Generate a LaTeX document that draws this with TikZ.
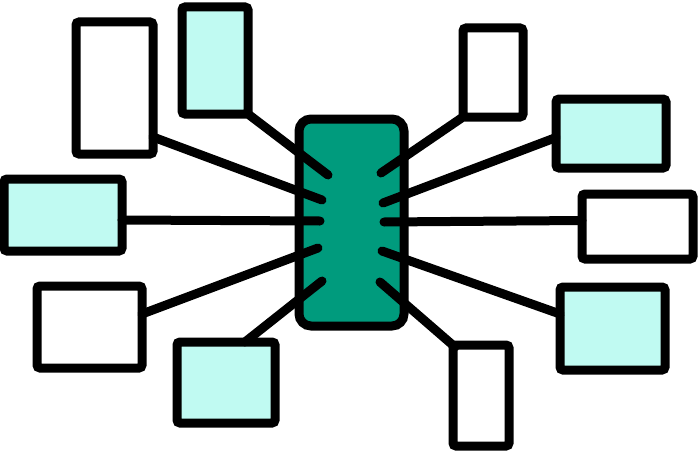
\documentclass[tikz,border=0pt]{standalone}
\usetikzlibrary{calc}
\definecolor{chipteal}{RGB}{0,155,125}
\definecolor{lightcyan}{RGB}{192,250,242}
\begin{document}
\begin{tikzpicture}[x=1pt,y=-1pt,
  box/.style={draw=black, line width=9pt, rounded corners=3pt, inner sep=0pt, outer sep=0pt},
  wbox/.style={box, fill=white},
  cbox/.style={box, fill=lightcyan},
  chip/.style={draw=black, line width=9pt, rounded corners=12pt, fill=chipteal, inner sep=0pt, outer sep=0pt},
  wire/.style={draw=black, line width=9pt, line cap=round}]
\useasboundingbox (0,0) rectangle (700,452);
% boxes
\node[wbox, minimum width=77pt, minimum height=132pt] (l1) at (114.5,88) {};
\node[cbox, minimum width=66pt, minimum height=107pt] (l2) at (215,60.5) {};
\node[cbox, minimum width=118pt, minimum height=72pt] (l3) at (63,215) {};
\node[wbox, minimum width=105pt, minimum height=82pt] (l4) at (89.5,327) {};
\node[cbox, minimum width=98pt, minimum height=81pt] (l5) at (226,382.5) {};
\node[wbox, minimum width=60pt, minimum height=89pt] (r1) at (493,72.5) {};
\node[cbox, minimum width=110pt, minimum height=69pt] (r2) at (611,133.5) {};
\node[wbox, minimum width=111pt, minimum height=65pt] (r3) at (637.5,226.5) {};
\node[cbox, minimum width=105pt, minimum height=83pt] (r4) at (612.5,328.5) {};
\node[wbox, minimum width=56pt, minimum height=101pt] (r5) at (481,395.5) {};
% chip
\node[chip, minimum width=105pt, minimum height=207pt] (c) at (351.5,222.5) {};
% stub ends inside chip
\coordinate (sl1) at (322,200);
\coordinate (sl2) at (328,175);
\coordinate (sl3) at (320,221);
\coordinate (sl4) at (318,248);
\coordinate (sl5) at (322,281);
\coordinate (sr1) at (381,173);
\coordinate (sr2) at (383,203);
\coordinate (sr3) at (384,222);
\coordinate (sr4) at (382,251);
\coordinate (sr5) at (380,282);
% connectors
\draw[wire] ($(l1.south east)+(0,-17)$) -- (sl1);
\draw[wire] (l2.south east) -- (sl2);
\draw[wire] ($(l3.east)+(0,5)$) -- (sl3);
\draw[wire] ($(l4.north east)+(0,28)$) -- (sl4);
\draw[wire] ($(l5.north)+(19,0)$) -- (sl5);
\draw[wire] (r1.south west) -- (sr1);
\draw[wire] ($(r2.west)+(0,4)$) -- (sr2);
\draw[wire] ($(r3.west)+(0,-6)$) -- (sr3);
\draw[wire] ($(r4.north west)+(0,27)$) -- (sr4);
\draw[wire] ($(r5.north west)+(2,2)$) -- (sr5);
\end{tikzpicture}
\end{document}
